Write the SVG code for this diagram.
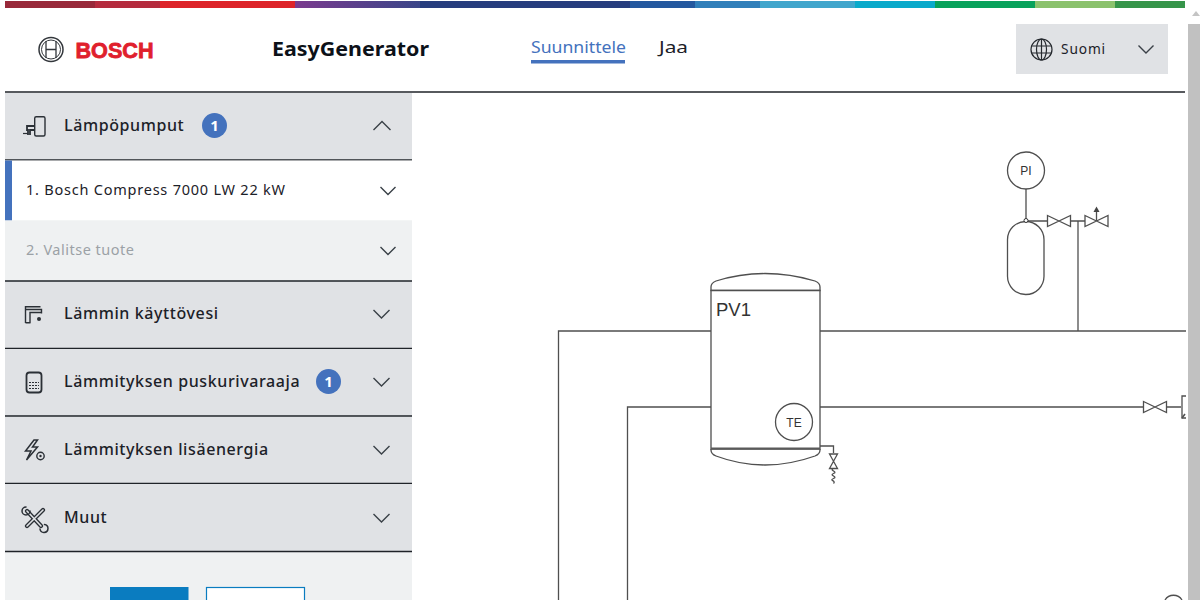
<svg xmlns="http://www.w3.org/2000/svg" width="1200" height="600" viewBox="0 0 1200 600">
<style>
text{font-family:"Noto Sans","Open Sans","Liberation Sans",sans-serif;fill:#1c2128}
.lab{font-size:16px;font-weight:500;letter-spacing:.6px}
.sub{font-size:14.5px;font-weight:400}
.pid{fill:none;stroke:#4f4f4f;stroke-width:1.3}
.pidf{fill:#fff;stroke:#4f4f4f;stroke-width:1.3}
.pt{font-family:"Liberation Sans",sans-serif;fill:#333}
.chev{fill:none;stroke:#3a4047;stroke-width:1.4}
.ic{fill:none;stroke:#2b3036;stroke-width:1.4}
.rule{stroke:#1f2328;stroke-width:1.3}
.head{fill:#e0e2e5}
.badge{fill:#4472bd}
.bt{fill:#fff;font-size:15px;font-weight:700;text-anchor:middle}
</style>
<defs>
<linearGradient id="pur"><stop offset="0" stop-color="#7a3a8e"/><stop offset="1" stop-color="#3b4689"/></linearGradient>
<g id="valve"><path class="pidf" d="M-11.500-5.500 L11.500 5.500 V-5.500 L-11.500 5.500Z"/></g>
</defs>
<rect width="1200" height="600" fill="#fff"/>
<g id="topbar">
<rect x="5" y="1" width="90" height="7" fill="#98293a"/>
<rect x="95" y="1" width="65" height="7" fill="#b52b3e"/>
<rect x="160" y="1" width="135" height="7" fill="#dd2329"/>
<rect x="295" y="1" width="125" height="7" fill="url(#pur)"/>
<rect x="420" y="1" width="210" height="7" fill="#273d7e"/>
<rect x="630" y="1" width="65" height="7" fill="#24589f"/>
<rect x="695" y="1" width="65" height="7" fill="#317fba"/>
<rect x="760" y="1" width="95" height="7" fill="#41a6cc"/>
<rect x="855" y="1" width="80" height="7" fill="#0aaacb"/>
<rect x="935" y="1" width="100" height="7" fill="#08a25b"/>
<rect x="1035" y="1" width="80" height="7" fill="#8bc26d"/>
<rect x="1115" y="1" width="70" height="7" fill="#36954a"/>
</g>
<g id="scrollbar">
<rect x="1188" y="24" width="12" height="576" fill="#c1c1c1"/>
<path d="M1192 16l4-5 4 5z" fill="#c4c4c4"/>
</g>
<g id="header">
<g id="logo">
<circle cx="51" cy="49.500" r="12" fill="none" stroke="#33373c" stroke-width="1.500"/>
<circle cx="51" cy="49.500" r="9.500" fill="none" stroke="#33373c" stroke-width="1"/>
<path d="M46 41v17M56 41v17M46 49.500h10" fill="none" stroke="#33373c" stroke-width="1.300"/>
<text x="75.500" y="57.500" style="font-family:'Liberation Sans',sans-serif;font-size:22.500px;font-weight:700;fill:#e0202c;stroke:#e0202c;stroke-width:.8" textLength="78" lengthAdjust="spacingAndGlyphs">BOSCH</text>
</g>
<text id="app-title" x="272" y="55.500" style="font-size:19.500px;font-weight:700;fill:#0c1118" textLength="157" lengthAdjust="spacingAndGlyphs">EasyGenerator</text>
<g id="nav-design">
<text x="531" y="53" style="font-size:16px;fill:#4472bd" textLength="95" lengthAdjust="spacingAndGlyphs">Suunnittele</text>
<rect x="531" y="60" width="94" height="3.500" fill="#4472bd"/>
</g>
<text id="nav-share" x="659" y="53" style="font-size:16px" textLength="29" lengthAdjust="spacingAndGlyphs">Jaa</text>
<g id="language">
<rect x="1016" y="24" width="152" height="50" fill="#e0e2e5"/>
<g fill="none" stroke="#25292e" stroke-width="1.200">
<circle cx="1041.500" cy="49.500" r="10.500"/>
<ellipse cx="1041.500" cy="49.500" rx="5" ry="10.500"/>
<path d="M1041.500 39v21M1031.500 46h20M1031.500 53h20"/>
</g>
<text x="1061" y="54" style="font-size:14.500px;letter-spacing:.9px" textLength="45" lengthAdjust="spacingAndGlyphs">Suomi</text>
<path class="chev" d="M1138.500 45.500l7.500 7.500 7.500-7.500"/>
</g>
<line x1="5" y1="92" x2="1185" y2="92" class="rule"/>
</g>
<g id="sidebar">
<rect x="5" y="93" width="407" height="507" fill="#eff1f2"/>
<g id="sec-heatpumps">
<rect class="head" x="5" y="93" width="407" height="66.500"/>
<rect class="ic" x="34.700" y="116.700" width="10.300" height="19.300" rx="1.500"/>
<path d="M28 135v-5h-1v-4h7.500M30 135v-5h4" fill="none" stroke="#2b3036" stroke-width="1.800"/>
<path d="M23 133.500h5" stroke="#2b3036" stroke-width="1.200"/>
<text class="lab" x="64" y="131">Lämpöpumput</text>
<circle class="badge" cx="214.500" cy="125.500" r="12.500"/>
<text class="bt" x="214.500" y="131">1</text>
<path class="chev" d="M373.500 130l8.500-8.500 8.500 8.500"/>
<line x1="5" y1="160" x2="412" y2="160" class="rule"/>
</g>
<g id="item-1">
<rect x="5" y="160.500" width="407" height="60" fill="#fff"/>
<rect x="5" y="160.500" width="7" height="60" fill="#4472bd"/>
<text class="sub" x="26" y="195" textLength="259">1. Bosch Compress 7000 LW 22 kW</text>
<path class="chev" d="M380.500 187l7.500 7.500 7.500-7.500"/>
</g>
<g id="item-2">
<rect x="5" y="220.500" width="407" height="60" fill="#eff1f2"/>
<text class="sub" x="26" y="254.500" style="fill:#9ba1a6" textLength="108">2. Valitse tuote</text>
<path class="chev" d="M380.500 247l7.500 7.500 7.500-7.500"/>
</g>
<g id="sec-hotwater">
<rect class="head" x="5" y="281" width="407" height="67"/>
<line x1="5" y1="281" x2="412" y2="281" class="rule"/>
<path class="ic" d="M25.500 323v-16.300h15M25.500 309.500h16v4M30 323v-10.500h11M25.500 322.700h5"/>
<circle cx="39" cy="319" r="2" fill="#2b3036"/>
<text class="lab" x="64" y="319">Lämmin käyttövesi</text>
<path class="chev" d="M373.500 310l8 8 8-8"/>
<line x1="5" y1="348.500" x2="412" y2="348.500" class="rule"/>
</g>
<g id="sec-buffer">
<rect class="head" x="5" y="349" width="407" height="67"/>
<rect x="26.500" y="372.500" width="15" height="20" rx="3" fill="none" stroke="#2b3036" stroke-width="1.800"/>
<path d="M29 382.500h10M29 385.500h10M29 388.500h10" fill="none" stroke="#2b3036" stroke-width="1.200" stroke-dasharray="2 1"/>
<text class="lab" x="64" y="387">Lämmityksen puskurivaraaja</text>
<circle class="badge" cx="328.500" cy="381.500" r="12.500"/>
<text class="bt" x="328.500" y="387">1</text>
<path class="chev" d="M373.500 378l8 8 8-8"/>
<line x1="5" y1="416" x2="412" y2="416" class="rule"/>
</g>
<g id="sec-extra">
<rect class="head" x="5" y="417" width="407" height="67"/>
<path d="M34 440l-8.500 11h5.500l-4.500 9 11-13h-5l5-7z" fill="none" stroke="#2b3036" stroke-width="1.500"/>
<circle class="ic" cx="40.500" cy="456" r="3.700"/>
<circle cx="40.500" cy="456" r="1.200" fill="#2b3036"/>
<text class="lab" x="64" y="455">Lämmityksen lisäenergia</text>
<path class="chev" d="M373.500 446l8 8 8-8"/>
<line x1="5" y1="483.500" x2="412" y2="483.500" class="rule"/>
</g>
<g id="sec-other">
<g></g>
<rect class="head" x="5" y="484" width="407" height="67"/>
<g fill="none" stroke-linecap="round">
<path d="M27 511l14 15M43 510l-16 16" stroke="#2b3036" stroke-width="4.200"/>
<path d="M27 511l14 15M43 510l-16 16" stroke="#e0e2e5" stroke-width="1.600"/>
<path d="M26 507a4 4 0 1 0 4 4M40 529a4 4 0 1 0 4.500-4.500" stroke="#2b3036" stroke-width="1.500"/>
</g>
<text class="lab" x="64" y="523">Muut</text>
<path class="chev" d="M373.500 514l8 8 8-8"/>
<line x1="5" y1="551.500" x2="412" y2="551.500" class="rule"/>
</g>
<g id="buttons">
<rect x="110" y="587" width="78.500" height="13" fill="#0a7cc0"/>
<rect x="206.500" y="587.500" width="98" height="14" fill="#fff" stroke="#0a7cc0" stroke-width="1.200"/>
</g>
</g>
<g id="connectors">
<path class="pid" d="M711 331H558.500V600"/>
<path class="pid" d="M711 407H627.500V600"/>
<path class="pid" d="M820 331H1186"/>
<path class="pid" d="M820 407H1144M1166 407H1181"/>
<path class="pid" d="M1078 331V221"/>
<path class="pid" d="M1026 189V221H1048M1070 221H1086"/>
<path class="pid" d="M820 446H833.500V453"/>
</g>
<g id="PI">
<circle class="pidf" cx="1026" cy="170.500" r="18.500"/>
<text class="pt" x="1026" y="175" font-size="12" text-anchor="middle">PI</text>
</g>
<g id="expansion-vessel">
<rect class="pidf" x="1007.500" y="221.500" width="36.500" height="73" rx="18.200"/>
<circle cx="1026" cy="220.500" r="2" fill="#fff" stroke="#333"/>
</g>
<g id="valve-1"><use href="#valve" x="1059" y="221"/></g>
<g id="safety-valve">
<use href="#valve" x="1096.500" y="221"/>
<path class="pid" d="M1096.500 221V210"/>
<path d="M1096.500 206.500l-3 5.500h6z" fill="#444"/>
</g>
<g id="PV1">
<path class="pidf" d="M711 290.500V287Q711 283 716 281Q740 273.500 765 273.500Q790 273.500 815 281Q820 283 820 287V290.500z"/>
<path class="pidf" d="M711 290.500H820V449H711z"/>
<path class="pid" d="M711 449v1Q711 454 716 456Q740 465 765 465Q790 465 815 456Q820 454 820 450v-1"/>
<path d="M711 448.500h109" stroke="#5a5a5a" stroke-width="2" fill="none"/>
<text class="pt" x="716" y="316" font-size="18.500">PV1</text>
</g>
<g id="TE">
<circle class="pidf" cx="794" cy="422" r="18.500"/>
<text class="pt" x="794" y="426.500" font-size="12" text-anchor="middle">TE</text>
</g>
<g id="drain">
<path class="pidf" d="M829.500 454h8l-8 14.500h8z"/>
<path class="pid" d="M833.500 468.500c-5 2 5 3 0 5s5 3 0 5 3 2 0 5" stroke-width="1"/>
</g>
<g id="valve-2"><use href="#valve" x="1155" y="407"/></g>
<g id="edge-symbol">
<path class="pid" d="M1186 396h-4v22h4" stroke-width="1.600"/>
<path d="M1182 418l3-4" stroke="#4f4f4f" stroke-width="1.500"/>
</g>
<path id="edge-circle" class="pid" d="M1165 600a10 10 0 0 1 17 0"/>
</svg>
